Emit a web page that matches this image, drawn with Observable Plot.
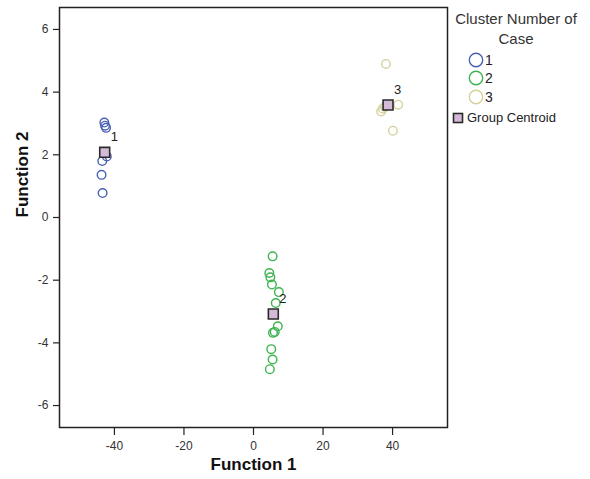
<!DOCTYPE html>
<html>
<head>
<meta charset="utf-8">
<script src="https://cdn.jsdelivr.net/npm/d3@7"></script>
<script src="https://cdn.jsdelivr.net/npm/@observablehq/plot@0.6"></script>
<style>
  html, body { margin: 0; padding: 0; background: #fff; }
  #wrap { position: relative; width: 590px; height: 479px; font-family: "Liberation Sans", Arial, sans-serif; color: #222; }
  .abs { position: absolute; white-space: nowrap; }
</style>
</head>
<body>
<div id="wrap">
  <div id="chart"></div>
</div>
<script>
// Cluster 1 cases
const c1x = [-42.9, -42.7, -42.4, -42.2, -43.5, -43.7, -43.4];
const c1y = [3.03, 2.93, 2.86, 1.95, 1.80, 1.36, 0.78];
// Cluster 2 cases
const c2x = [5.5, 4.55, 4.85, 5.3, 7.3, 6.4, 7.0, 6.1, 5.6, 5.1, 5.5, 4.7];
const c2y = [-1.24, -1.77, -1.91, -2.14, -2.38, -2.73, -3.47, -3.65, -3.68, -4.20, -4.53, -4.84];
// Cluster 3 cases
const c3x = [38.1, 36.7, 37.2, 37.8, 41.6, 40.1];
const c3y = [4.90, 3.38, 3.47, 3.53, 3.60, 2.77];
// Group centroids
const centroidLabels = ["1", "2", "3"];
const centroidX = [-42.8, 5.7, 38.7];
const centroidY = [2.08, -3.08, 3.59];
// Axis ticks
const xTicks = [-40, -20, 0, 20, 40];
const yTicks = [-6, -4, -2, 0, 2, 4, 6];
const clusterNames = ["1", "2", "3"];
const clusterColors = ["#4a62b4", "#3db44f", "#d6d19c"];
const legendTitle = ["Cluster Number of", "Case"];
const centroidLegendLabel = "Group Centroid";

const cases = [
  ...c1x.map((x, i) => ({x, y: c1y[i], cluster: "1"})),
  ...c2x.map((x, i) => ({x, y: c2y[i], cluster: "2"})),
  ...c3x.map((x, i) => ({x, y: c3y[i], cluster: "3"}))
];
const centroids = centroidLabels.map((label, i) => ({label, x: centroidX[i], y: centroidY[i]}));

const plot = Plot.plot({
  width: 590,
  height: 479,
  marginLeft: 59,
  marginRight: 143,
  marginTop: 7,
  marginBottom: 52,
  style: {fontFamily: "Liberation Sans, Arial, sans-serif", fontSize: "12px", color: "#333", background: "#fff"},
  x: {domain: [-55.8, 55.8]},
  y: {domain: [-6.7, 6.7]},
  color: {domain: clusterNames, range: clusterColors},
  marks: [
    Plot.axisX({ticks: xTicks, tickFormat: d => String(d), tickSize: 8, tickPadding: 6, label: null, stroke: "#222", strokeWidth: 1.2}),
    Plot.axisY({ticks: yTicks, tickFormat: d => String(d), tickSize: 6, tickPadding: 5, label: null, stroke: "#222", strokeWidth: 1.2}),
    Plot.dot(cases, {x: "x", y: "y", stroke: "cluster", r: 4.3, strokeWidth: 1.4, fill: "none"}),
    Plot.dot(centroids, {x: "x", y: "y", symbol: "square", r: 5.6, fill: "#d4b9d8", stroke: "#2a2a2a", strokeWidth: 1.6}),
    Plot.text(centroids, {x: "x", y: "y", text: "label", dx: 6, dy: -15, textAnchor: "start", fontSize: 13, fill: "#222"}),
    Plot.frame({stroke: "#222", strokeWidth: 1.5}),
    Plot.text(["Function 1"], {frameAnchor: "bottom", dy: 42, text: d => d, fontSize: 17, fontWeight: "bold", fill: "#111"}),
    Plot.text(["Function 2"], {frameAnchor: "left", dx: -37, rotate: -90, text: d => d, fontSize: 17, fontWeight: "bold", fill: "#111"})
  ]
});
const wrap = document.getElementById("wrap");
document.getElementById("chart").appendChild(plot);

// Legend (HTML, placed to the right of the frame)
function addEl(html, style) {
  const d = document.createElement("div");
  d.className = "abs";
  Object.assign(d.style, style);
  d.innerHTML = html;
  wrap.appendChild(d);
}
legendTitle.forEach((t, i) => {
  addEl(t, {left: "446px", width: "140px", textAlign: "center", top: (9 + i * 20) + "px", fontSize: "15px", lineHeight: "20px", color: "#333"});
});
clusterNames.forEach((name, i) => {
  const cy = 60 + i * 18.3;
  addEl(`<svg width="18" height="18"><circle cx="9" cy="9" r="6.7" fill="none" stroke="${clusterColors[i]}" stroke-width="1.4"/></svg>`,
        {left: "467px", top: (cy - 9) + "px", lineHeight: "0"});
  addEl(name, {left: "485px", top: (cy - 9) + "px", fontSize: "14px", lineHeight: "18px", color: "#222"});
});
addEl(`<svg width="12" height="12"><rect x="1.5" y="1.5" width="9" height="9" fill="#d4b9d8" stroke="#2a2a2a" stroke-width="1.6"/></svg>`,
      {left: "451.5px", top: "111.7px", lineHeight: "0"});
addEl(centroidLegendLabel, {left: "467px", top: "108.7px", fontSize: "13px", lineHeight: "18px", color: "#222"});
</script>
</body>
</html>
